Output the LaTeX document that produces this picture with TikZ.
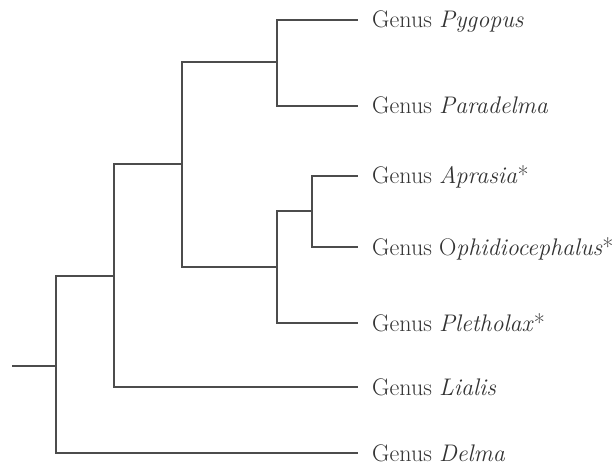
\documentclass[tikz,border=0pt]{standalone}
\definecolor{treegray}{gray}{0.3}
\definecolor{labelgray}{gray}{0.2}
\tikzset{
  branch/.style={draw=treegray, line width=1.2pt},
  taxon/.style={anchor=base west, inner sep=0pt, xshift=14pt, yshift=-8pt,
    text=labelgray, font=\fontsize{24}{28}\selectfont}
}
\begin{document}
\begin{tikzpicture}[x=1pt,y=-1pt]
\useasboundingbox (0,0) rectangle (613,465);
% inner nodes of the tree
\coordinate (stem) at (12,366);
\coordinate (n1) at (56,366);
\coordinate (n2) at (114,276);
\coordinate (n3) at (182,164);
\coordinate (n4) at (277,62);
\coordinate (n5) at (277,267);
\coordinate (n6) at (312,211);
% tips
\coordinate (pyg) at (358,20);
\coordinate (para) at (358,106);
\coordinate (apr) at (358,176);
\coordinate (oph) at (358,247);
\coordinate (ple) at (358,323);
\coordinate (lia) at (358,387);
\coordinate (del) at (358,453);
\draw[branch] (stem) -- (n1);
\draw[branch] (n1) |- (n2);
\draw[branch] (n1) |- (del);
\draw[branch] (n2) |- (n3);
\draw[branch] (n2) |- (lia);
\draw[branch] (n3) |- (n4);
\draw[branch] (n3) |- (n5);
\draw[branch] (n4) |- (pyg);
\draw[branch] (n4) |- (para);
\draw[branch] (n5) |- (n6);
\draw[branch] (n5) |- (ple);
\draw[branch] (n6) |- (apr);
\draw[branch] (n6) |- (oph);
\node[taxon] (pygL) at (pyg) {Genus \textit{Pygopus}};
\node[taxon] (paraL) at (para) {Genus \textit{Paradelma}};
\node[taxon] (aprL) at (apr) {Genus \textit{Aprasia}*};
\node[taxon] (ophL) at (oph) {Genus O\textit{phidiocephalus}*};
\node[taxon] (pleL) at (ple) {Genus \textit{Pletholax}*};
\node[taxon] (liaL) at (lia) {Genus \textit{Lialis}};
\node[taxon] (delL) at (del) {Genus \textit{Delma}};
\end{tikzpicture}
\end{document}
